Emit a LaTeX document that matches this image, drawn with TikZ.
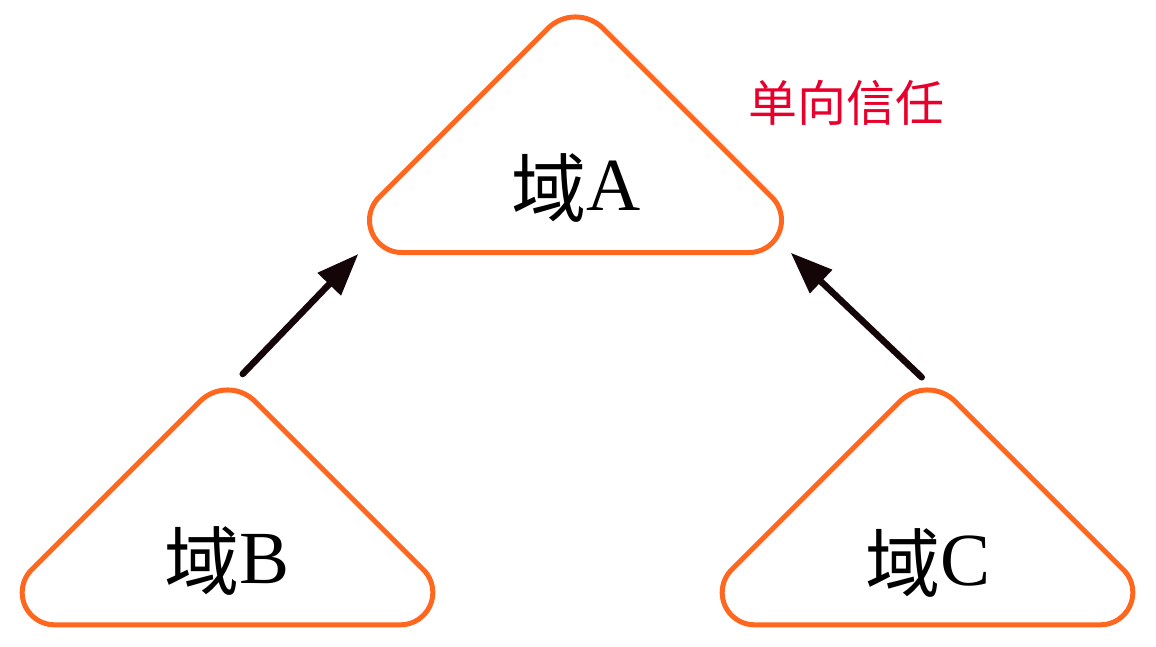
\documentclass[tikz,border=0pt]{standalone}
\usepackage{fontspec}
\setmainfont{Liberation Serif}
\newfontfamily\cjk{Noto Sans CJK SC}
\usetikzlibrary{arrows.meta}
\definecolor{triorange}{RGB}{255,102,30}
\definecolor{arrowdark}{RGB}{20,5,8}
\definecolor{labelred}{RGB}{232,0,45}
\tikzset{
  tri/.style={draw=triorange, line width=5pt, line join=round},
  trust/.style={draw=arrowdark, line width=6.5pt, line cap=round, -{Triangle[length=42pt,width=31pt]}},
  domlabel/.style={anchor=base, inner sep=0pt, text=black, font=\fontsize{75}{75}\selectfont},
  redlabel/.style={anchor=center, inner sep=0pt, text=labelred, font=\cjk\fontsize{49}{49}\selectfont}
}
% #1 = centre x, #2 = sharp apex y, #3 = base y (pixels, y downward)
\newcommand\domaintri[3]{%
  \pgfmathsetmacro\dA{78}%
  \pgfmathsetmacro\rA{0.41421*78}%
  \pgfmathsetmacro\dB{39}%
  \pgfmathsetmacro\hh{#3-#2}%
  \draw[tri] ({#1-\hh+\dA},{-#3})
    arc[start angle=270,end angle=135,radius=\rA]
    -- ({#1-\dB/sqrt(2)},{-(#2+\dB/sqrt(2))})
    arc[start angle=135,end angle=45,radius=\dB]
    -- ({#1+\hh-\dA/sqrt(2)},{-(#3-\dA/sqrt(2))})
    arc[start angle=45,end angle=-90,radius=\rA]
    -- cycle;%
}
\begin{document}
\begin{tikzpicture}[x=1pt,y=1pt]
\useasboundingbox (0,0) rectangle (1156,-646);
\domaintri{575.5}{0.8}{252.5}
\domaintri{227.5}{373.8}{624.8}
\domaintri{927.5}{373.8}{624.8}
\node[domlabel] (tA) at (576,-210) {\raisebox{-6pt}{\cjk 域}A};
\node[domlabel] (tB) at (227,-583) {\raisebox{-6pt}{\cjk 域}B};
\node[domlabel] (tC) at (928,-585) {\raisebox{-6pt}{\cjk 域}C};
\node[redlabel] (trust) at (846.5,-102.5) {单向信任};
\coordinate (bTail) at (242.7,-374);
\coordinate (aTipL) at (358.3,-254);
\coordinate (cTail) at (921.7,-377.3);
\coordinate (aTipR) at (790.7,-252.7);
\draw[trust] (bTail) -- (aTipL);
\draw[trust] (cTail) -- (aTipR);
\end{tikzpicture}
\end{document}
